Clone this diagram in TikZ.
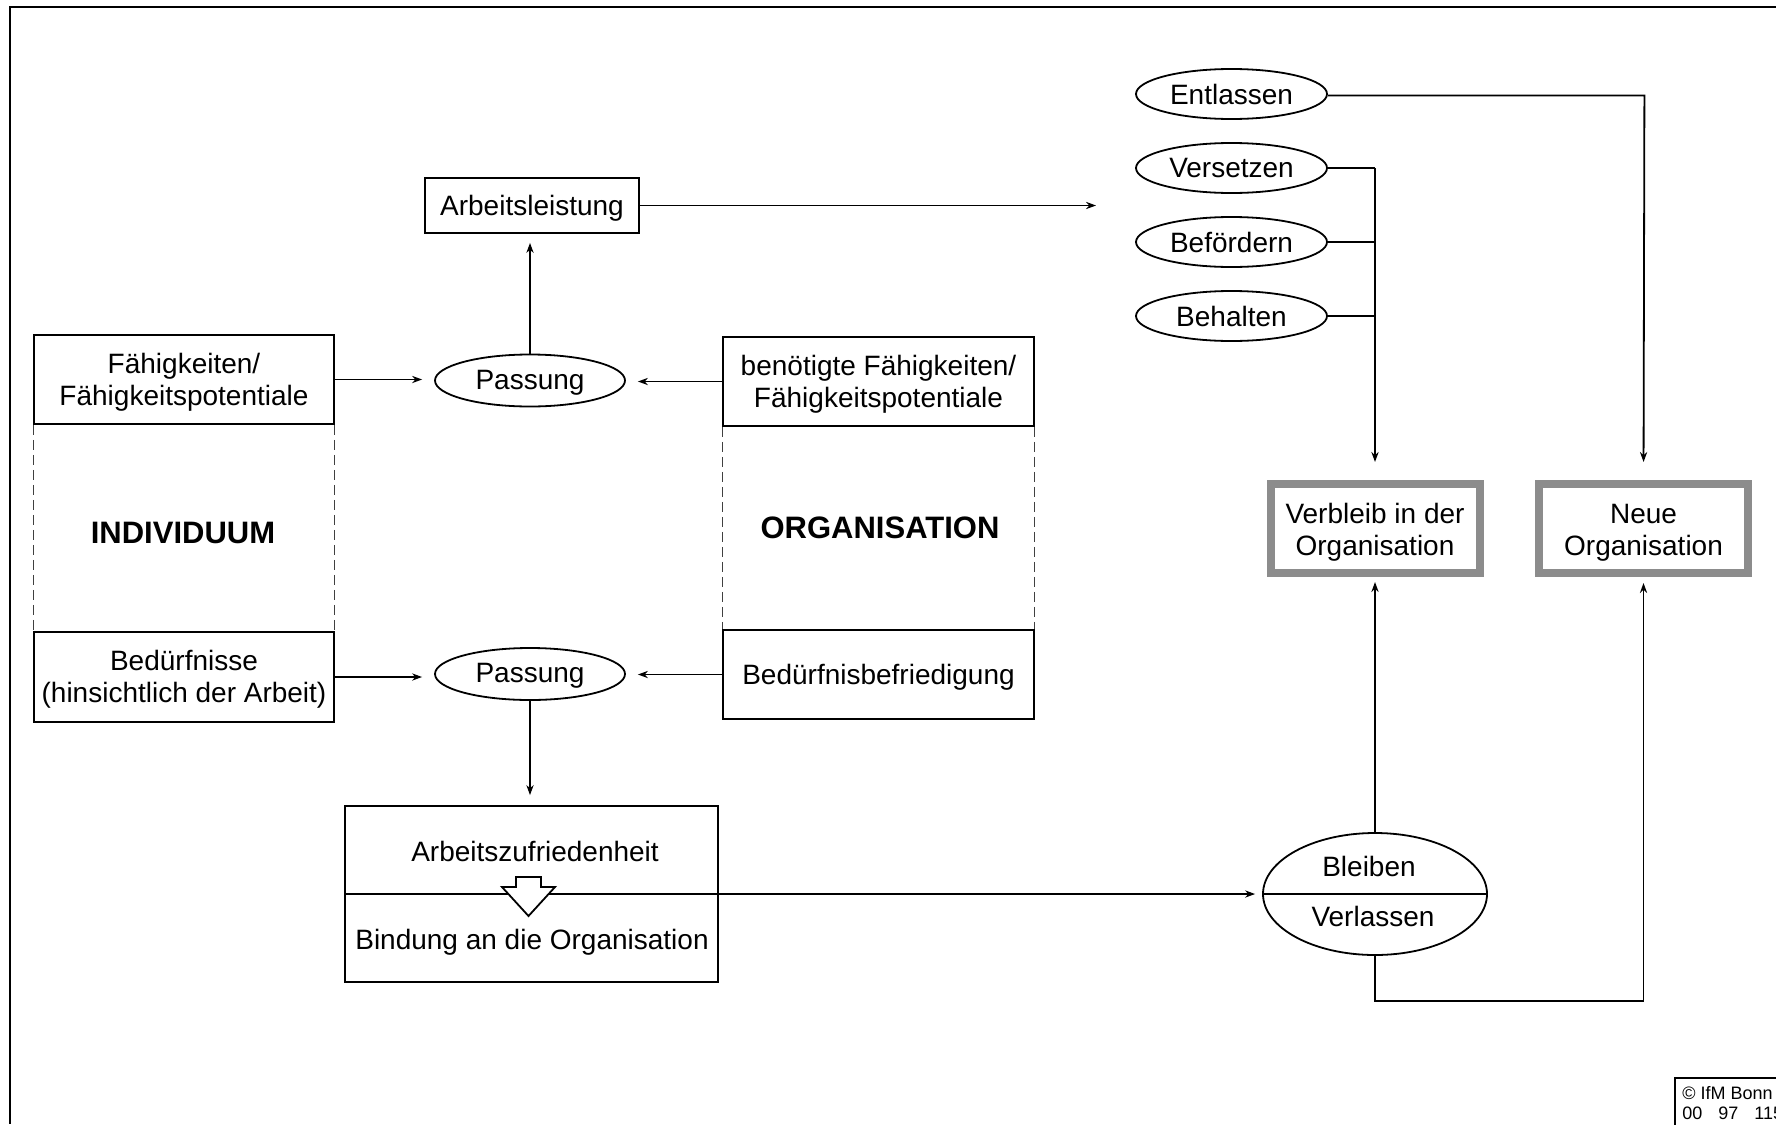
\documentclass[tikz,border=0pt]{standalone}
\usepackage{fontspec}
\setmainfont{Liberation Sans}
\usetikzlibrary{shapes.geometric,arrows.meta}
\definecolor{frgray}{RGB}{140,140,140}
\newcommand{\lowtxt}[2]{\raisebox{-#1}[\height][\depth]{\begin{tabular}{@{}c@{}}#2\end{tabular}}}
\begin{document}
\begin{tikzpicture}[x=0.5pt,y=-0.5pt,
  every node/.style={font=\fontsize{14}{16}\selectfont},
  box/.style={draw, line width=0.9pt, rectangle, inner sep=0pt, align=center},
  ell/.style={draw, line width=0.9pt, ellipse, inner sep=0pt},
  gbox/.style={draw=frgray, line width=4pt, rectangle, inner sep=0pt, align=center,
               minimum width=104.5pt, minimum height=44.5pt},
  conn/.style={line width=0.9pt, -{Stealth[length=5pt,width=3.6pt]}},
  plain/.style={line width=0.9pt},
  dashline/.style={line width=0.5pt, black!75, dash pattern=on 5pt off 2.5pt},
  big/.style={font=\fontsize{15.5}{18}\selectfont\bfseries},
  small/.style={font=\fontsize{9}{10}\selectfont}
]
\useasboundingbox (0,0) rectangle (1776,1124);

% outer frame (cut at right and bottom)
\draw[line width=1.4pt] (1776,7) -- (10,7) -- (10,1124);

% left column
\node[box, minimum width=150pt, minimum height=44.5pt] (fae) at (184,379.5) {\lowtxt{1.8pt}{Fähigkeiten/\\Fähigkeitspotentiale}};
\node[box, minimum width=150pt, minimum height=45pt] (bed) at (184,677) {\lowtxt{1.6pt}{Bedürfnisse\\(hinsichtlich der Arbeit)}};
\node[big] (ind) at (183,533) {INDIVIDUUM};
\draw[dashline] (fae.south west) -- (bed.north west);
\draw[dashline] (fae.south east) -- (bed.north east);

% organisation column
\node[box, minimum width=155.5pt, minimum height=44.5pt] (ben) at (878.5,381.5) {\lowtxt{1.8pt}{benötigte Fähigkeiten/\\Fähigkeitspotentiale}};
\node[box, minimum width=155.5pt, minimum height=44.5pt] (befr) at (878.5,674.5) {\lowtxt{1.7pt}{Bedürfnisbefriedigung}};
\node[big] (org) at (880,528) {ORGANISATION};
\draw[dashline] (ben.south west) -- (befr.north west);
\draw[dashline] (ben.south east) -- (befr.north east);

% middle
\node[box, minimum width=107pt, minimum height=27.5pt] (arb) at (532,205.5) {\lowtxt{2pt}{Arbeitsleistung}};
\node[ell, minimum width=95pt, minimum height=26pt] (pas1) at (530,380.5) {\lowtxt{1.1pt}{Passung}};
\node[ell, minimum width=95pt, minimum height=26pt] (pas2) at (530,674) {\lowtxt{1.1pt}{Passung}};
\node[box, minimum width=186.5pt, minimum height=88pt] (azf) at (531.5,894) {};
\node (azt) at (535,851) {Arbeitszufriedenheit};
\node (bin) at (532,942) {Bindung an die Organisation};
\coordinate (arbEnd) at (1096,205.5);

% right part
\node[ell, minimum width=95.5pt, minimum height=25pt] (ent) at (1231.5,94) {Entlassen};
\node[ell, minimum width=95.5pt, minimum height=25pt] (ves) at (1231.5,168) {Versetzen};
\node[ell, minimum width=95.5pt, minimum height=25pt] (bef) at (1231.5,242) {Befördern};
\node[ell, minimum width=95.5pt, minimum height=25pt] (beh) at (1231.5,316) {Behalten};
\node[gbox] (verb) at (1375,528.5) {\lowtxt{2.2pt}{Verbleib in der\\Organisation}};
\node[gbox] (neue) at (1643.5,528.5) {\lowtxt{2.2pt}{Neue\\Organisation}};
\node[ell, minimum width=112pt, minimum height=61pt] (bb) at (1375,894) {};
\draw[plain] (bb.west) -- (bb.east);
\node (bl) at (1369,866) {Bleiben};
\node (vl) at (1373,916) {Verlassen};
\coordinate (low) at (1375,1001);

% connectors
\draw[conn, shorten >=6pt] (fae.east) -- (fae.east -| pas1.west);
\draw[conn, shorten >=6pt] (ben.west) -- (ben.west -| pas1.east);
\draw[conn, shorten >=6pt] (bed.east) -- (bed.east -| pas2.west);
\draw[conn, shorten >=6pt] (befr.west) -- (befr.west -| pas2.east);
\draw[conn, shorten >=4.5pt] (pas1.north) -- (pas1.north |- arb.south);
\draw[conn] (arb.east) -- (arbEnd);
\draw[conn, shorten >=5pt] (pas2.south) -- (pas2.south |- azf.north);
\draw[conn, shorten >=3.5pt] (azf.west) -- (bb.west);

% hollow block arrow
\draw[line width=0.9pt, fill=white] (516,877) -- (541,877) -- (541,887) -- (555,887)
  -- (528.5,916) -- (502,887) -- (516,887) -- cycle;

\draw[conn, shorten >=2.5pt] (bb.north) -- (verb.south);
\draw[conn, shorten >=3pt] (bb.south) -- (low) -- (low -| neue.south) -- (neue.south);
\draw[conn, shorten >=9pt] (ent.east) ++(0,1.5) -- ++(316.5,0) -- (neue.north);
\draw[plain] (ves.east) -- (ves.east -| verb.north);
\draw[plain] (bef.east) -- (bef.east -| verb.north);
\draw[plain] (beh.east) -- (beh.east -| verb.north);
\draw[conn, shorten >=9pt] (ves.east -| verb.north) -- (verb.north);

% copyright box
\draw[line width=0.8pt] (1675,1140) -- (1675,1078) -- (1790,1078);
\node[small, anchor=base west, inner sep=0pt] (cp1) at (1682,1099) {© IfM Bonn};
\node[small, anchor=base west, inner sep=0pt] (cp2) at (1682,1119) {00\hspace{8pt}97\hspace{8pt}115};
\end{tikzpicture}
\end{document}
